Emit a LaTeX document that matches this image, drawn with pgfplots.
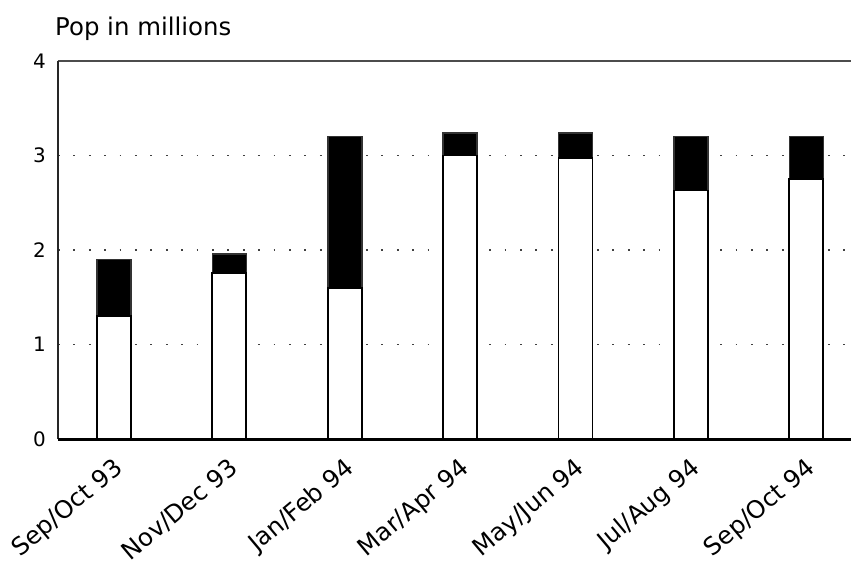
\documentclass[border=0pt]{standalone}
\usepackage{pgfplots}
\pgfplotsset{compat=1.18}
\usepackage{fontspec}
\setmainfont{DejaVu Sans}
\begin{document}
\begin{tikzpicture}
\begin{axis}[
  x=115.4bp, y=94.5bp,
  xmin=-0.485, xmax=6.387, ymin=0, ymax=4,
  scale only axis,
  ybar stacked, bar width=34bp,
  axis line style={draw=none},
  tick style={draw=none},
  xtick={0,...,6},
  xticklabels={Sep/Oct 93,Nov/Dec 93,Jan/Feb 94,Mar/Apr 94,May/Jun 94,Jul/Aug 94,Sep/Oct 94},
  ytick={0,1,2,3,4},
  ymajorgrids,
  major grid style={dash pattern=on 1.8bp off 13.6bp, line width=1.6bp, black!75},
  /pgf/number format/assume math mode=true,
  yticklabel style={font=\fontsize{20}{24}\selectfont, anchor=east, inner sep=0pt, xshift=-12bp},
  xticklabel style={font=\fontsize{24.5}{28}\selectfont, rotate=40, anchor=north east, inner sep=0pt, xshift=-12bp, yshift=-12bp},
  clip=false,
]
\addplot[fill=white, draw=black, line width=1.8bp] coordinates {(0,1.30) (1,1.76) (2,1.60) (3,3.00) (4,2.97) (5,2.63) (6,2.75)};
\addplot[fill=black, draw=black!80, line width=1.5bp] coordinates {(0,0.60) (1,0.20) (2,1.60) (3,0.24) (4,0.27) (5,0.57) (6,0.45)};
\draw[line width=3bp, black] (rel axis cs:0,0) -- (rel axis cs:1,0);
\draw[line width=1.8bp, black!85] (rel axis cs:0,0) -- (rel axis cs:0,1);
\draw[line width=1.8bp, black!70] (rel axis cs:0,1) -- (rel axis cs:1,1);
\node[anchor=base west, inner sep=0pt, font=\fontsize{24.5}{28}\selectfont] at ([xshift=-3bp, yshift=25bp]rel axis cs:0,1) {Pop in millions};
\coordinate (O) at (rel axis cs:0,0);
\end{axis}
\pgfresetboundingbox
\path (O) ++(-58bp,-122bp) rectangle ++(851bp,561bp);
\end{tikzpicture}
\end{document}
